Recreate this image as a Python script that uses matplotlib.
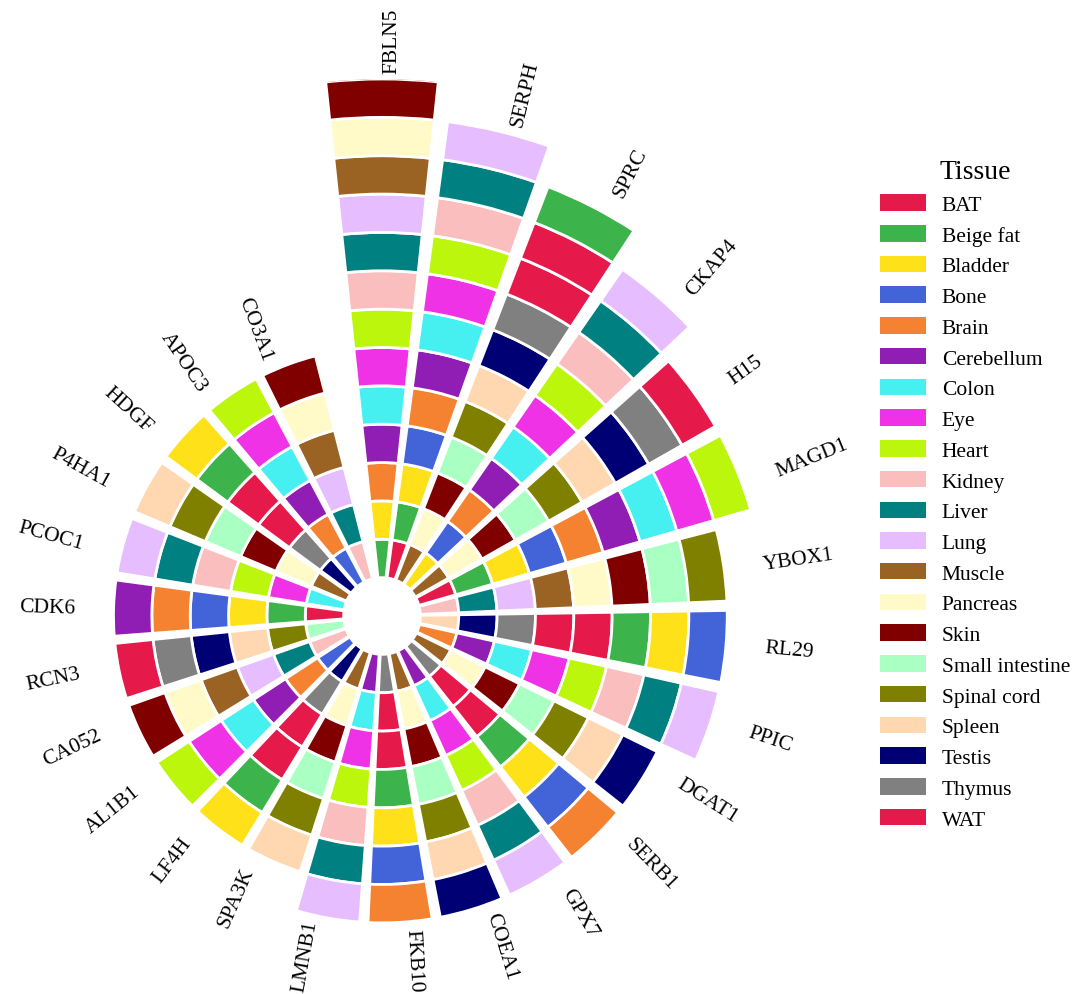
import numpy as np
import matplotlib.pyplot as plt
from matplotlib.patches import Patch

plt.rcParams['font.family'] = 'Liberation Serif'

# tissue legend (palette order)
tissues = ["BAT", "Beige fat", "Bladder", "Bone", "Brain", "Cerebellum", "Colon",
           "Eye", "Heart", "Kidney", "Liver", "Lung", "Muscle", "Pancreas", "Skin",
           "Small intestine", "Spinal cord", "Spleen", "Testis", "Thymus", "WAT"]
colors = ["#e6194b", "#3cb44b", "#ffe119", "#4363d8", "#f58231", "#911eb4", "#46f0f0",
          "#f032e6", "#bcf60c", "#fabebe", "#008080", "#e6beff", "#9a6324", "#fffac8",
          "#800000", "#aaffc3", "#808000", "#ffd8b1", "#000075", "#808080", "#e6194b"]

genes = ["FBLN5", "SERPH", "SPRC", "CKAP4", "H15", "MAGD1", "YBOX1", "RL29", "PPIC",
         "DGAT1", "SERB1", "GPX7", "COEA1", "FKB10", "LMNB1", "SPA3K", "LF4H", "AL1B1",
         "CA052", "RCN3", "CDK6", "PCOC1", "P4HA1", "HDGF", "APOC3", "CO3A1"]

# tissues stacked inside -> outside for each gene
gene_tissues = [
    ["Beige fat", "Bladder", "Brain", "Cerebellum", "Colon", "Eye", "Heart", "Kidney",
     "Liver", "Lung", "Muscle", "Pancreas", "Skin"],
    ["BAT", "Beige fat", "Bladder", "Bone", "Brain", "Cerebellum", "Colon", "Eye",
     "Heart", "Kidney", "Liver", "Lung"],
    ["Muscle", "Pancreas", "Skin", "Small intestine", "Spinal cord", "Spleen", "Testis",
     "Thymus", "WAT", "BAT", "Beige fat"],
    ["Bladder", "Bone", "Brain", "Cerebellum", "Colon", "Eye", "Heart", "Kidney",
     "Liver", "Lung"],
    ["Muscle", "Pancreas", "Skin", "Small intestine", "Spinal cord", "Spleen", "Testis",
     "Thymus", "WAT"],
    ["BAT", "Beige fat", "Bladder", "Bone", "Brain", "Cerebellum", "Colon", "Eye", "Heart"],
    ["Kidney", "Liver", "Lung", "Muscle", "Pancreas", "Skin", "Small intestine", "Spinal cord"],
    ["Spleen", "Testis", "Thymus", "WAT", "BAT", "Beige fat", "Bladder", "Bone"],
    ["Brain", "Cerebellum", "Colon", "Eye", "Heart", "Kidney", "Liver", "Lung"],
    ["Muscle", "Pancreas", "Skin", "Small intestine", "Spinal cord", "Spleen", "Testis"],
    ["Thymus", "WAT", "BAT", "Beige fat", "Bladder", "Bone", "Brain"],
    ["Cerebellum", "Colon", "Eye", "Heart", "Kidney", "Liver", "Lung"],
    ["Muscle", "Pancreas", "Skin", "Small intestine", "Spinal cord", "Spleen", "Testis"],
    ["Thymus", "WAT", "BAT", "Beige fat", "Bladder", "Bone", "Brain"],
    ["Cerebellum", "Colon", "Eye", "Heart", "Kidney", "Liver", "Lung"],
    ["Muscle", "Pancreas", "Skin", "Small intestine", "Spinal cord", "Spleen"],
    ["Testis", "Thymus", "WAT", "BAT", "Beige fat", "Bladder"],
    ["Bone", "Brain", "Cerebellum", "Colon", "Eye", "Heart"],
    ["Kidney", "Liver", "Lung", "Muscle", "Pancreas", "Skin"],
    ["Small intestine", "Spinal cord", "Spleen", "Testis", "Thymus", "WAT"],
    ["BAT", "Beige fat", "Bladder", "Bone", "Brain", "Cerebellum"],
    ["Colon", "Eye", "Heart", "Kidney", "Liver", "Lung"],
    ["Muscle", "Pancreas", "Skin", "Small intestine", "Spinal cord", "Spleen"],
    ["Testis", "Thymus", "WAT", "BAT", "Beige fat", "Bladder"],
    ["Bone", "Brain", "Cerebellum", "Colon", "Eye", "Heart"],
    ["Kidney", "Liver", "Lung", "Muscle", "Pancreas", "Skin"],
]

color_of = dict(zip(tissues, colors))

W, H = 1080, 995
fig = plt.figure(figsize=(W / 100, H / 100), dpi=100)

# polar axes placed so the centre sits at (382, 617) px, r=14 -> 537 px
cx, cy, R = 382, 617, 537
ax = fig.add_axes([(cx - R) / W, (H - cy - R) / H, 2 * R / W, 2 * R / H], projection="polar")
ax.set_theta_offset(np.pi / 2)
ax.set_theta_direction(-1)
ax.set_ylim(0, 14)
ax.axis("off")

step = 2 * np.pi / 26.5
for i, (g, ts) in enumerate(zip(genes, gene_tissues)):
    th = i * step
    for k, t in enumerate(ts):
        ax.bar(th, 1, width=0.21, bottom=1 + k, color=color_of[t],
               edgecolor="white", linewidth=2)
    deg = np.degrees(th)
    if deg <= 180:
        rot, ha = 90 - deg, "left"
    else:
        rot, ha = 270 - deg, "right"
    ax.text(th, len(ts) + 2, g, rotation=rot, ha=ha, va="center", fontsize=15.5)

handles = [Patch(facecolor=c, edgecolor="none", label=t) for t, c in zip(tissues, colors)]
fig.legend(handles=handles, title="Tissue", loc="upper left",
           bbox_to_anchor=(876 / W, 1 - 156 / H), frameon=False,
           fontsize=15.5, title_fontsize=20, handlelength=2.1, handleheight=0.8,
           handletextpad=0.75, labelspacing=0.465, borderpad=0.2, borderaxespad=0)

fig.savefig("out.png", dpi=100)
